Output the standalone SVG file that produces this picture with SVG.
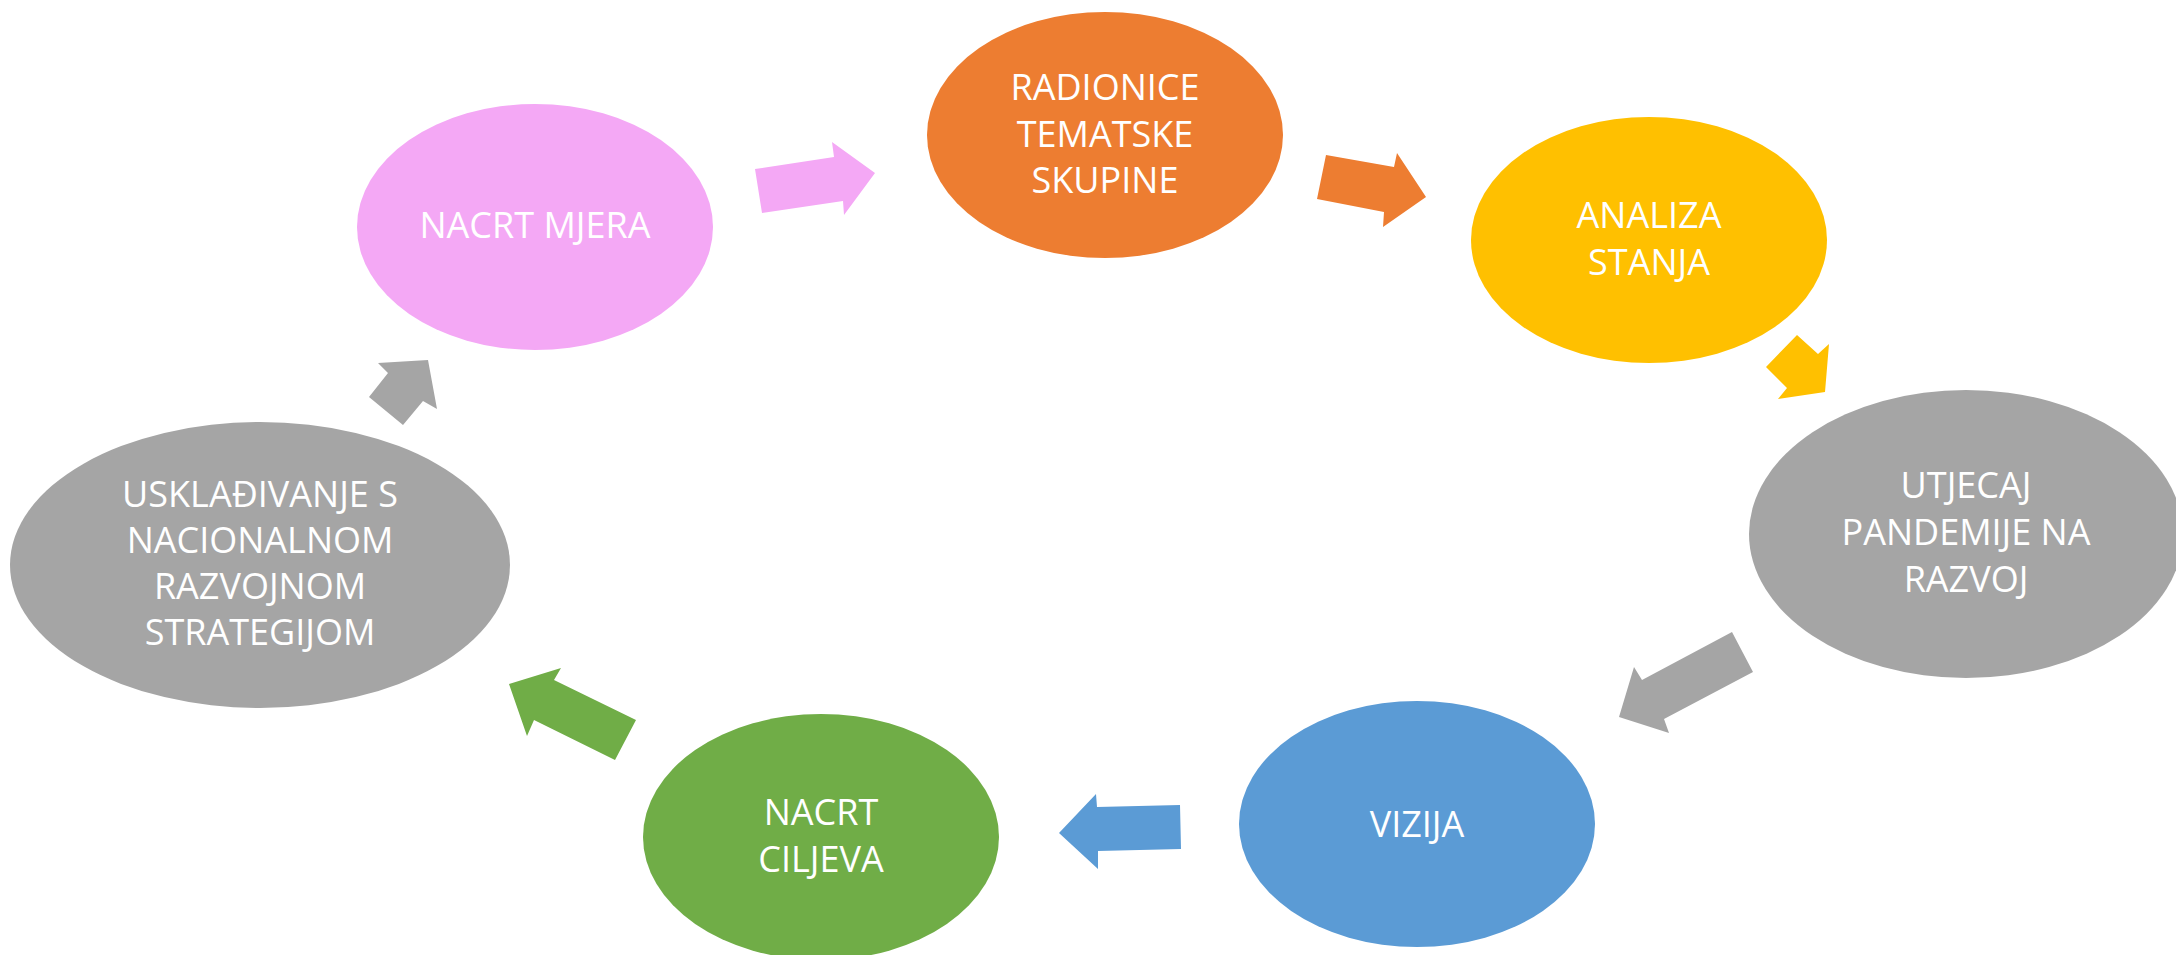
<svg xmlns="http://www.w3.org/2000/svg" width="2176" height="955" viewBox="0 0 2176 955">
<style>
.lbl{font-family:"Open Sans","Liberation Sans",sans-serif;font-size:36px;fill:#ffffff;text-anchor:middle}
</style>
<rect width="2176" height="955" fill="#ffffff"/>
<g id="connectors">
<polygon fill="#F4A8F5" points="755,169 762,213 843,201 844,215 875,173 832,142 834,157"/>
<polygon fill="#ED7D31" points="1326,155 1317,199 1384,212 1383,227 1426,197 1397,153 1394,167"/>
<polygon fill="#FFC000" points="1797,335 1766,367 1787,388 1778,399 1825,392 1829,344 1818,354"/>
<polygon fill="#A5A5A5" points="1732,632 1753,672 1664,719 1669,733 1619,717 1634,667 1642,680"/>
<polygon fill="#5B9BD5" points="1180,805 1181,849 1098,851 1098,869 1059,833 1096,794 1097,807"/>
<polygon fill="#70AD47" points="615,760 636,720 554,680 561,668 509,684 527,736 534,720"/>
<polygon fill="#A5A5A5" points="403,425 369,397 388,373 378,363 428,360 437,409 423,401"/>
</g>
<g id="node-nacrt-mjera">
<ellipse cx="535" cy="227" rx="178" ry="123" fill="#F4A8F5"/>
<text class="lbl" x="535" y="238">NACRT MJERA</text>
</g>
<g id="node-radionice">
<ellipse cx="1105" cy="135" rx="178" ry="123" fill="#ED7D31"/>
<text class="lbl" x="1105" y="100">RADIONICE</text>
<text class="lbl" x="1105" y="147">TEMATSKE</text>
<text class="lbl" x="1105" y="193">SKUPINE</text>
</g>
<g id="node-analiza">
<ellipse cx="1649" cy="240" rx="178" ry="123" fill="#FFC000"/>
<text class="lbl" x="1649" y="228">ANALIZA</text>
<text class="lbl" x="1649" y="275">STANJA</text>
</g>
<g id="node-utjecaj">
<ellipse cx="1966" cy="534" rx="217" ry="144" fill="#A5A5A5"/>
<text class="lbl" x="1966" y="498">UTJECAJ</text>
<text class="lbl" x="1966" y="545">PANDEMIJE NA</text>
<text class="lbl" x="1966" y="592">RAZVOJ</text>
</g>
<g id="node-vizija">
<ellipse cx="1417" cy="824" rx="178" ry="123" fill="#5B9BD5"/>
<text class="lbl" x="1417" y="837">VIZIJA</text>
</g>
<g id="node-nacrt-ciljeva">
<ellipse cx="821" cy="837" rx="178" ry="123" fill="#70AD47"/>
<text class="lbl" x="821" y="825">NACRT</text>
<text class="lbl" x="821" y="872">CILJEVA</text>
</g>
<g id="node-uskladivanje">
<ellipse cx="260" cy="565" rx="250" ry="143" fill="#A5A5A5"/>
<text class="lbl" x="260" y="507">USKLAĐIVANJE S</text>
<text class="lbl" x="260" y="553">NACIONALNOM</text>
<text class="lbl" x="260" y="599">RAZVOJNOM</text>
<text class="lbl" x="260" y="645">STRATEGIJOM</text>
</g>
</svg>
